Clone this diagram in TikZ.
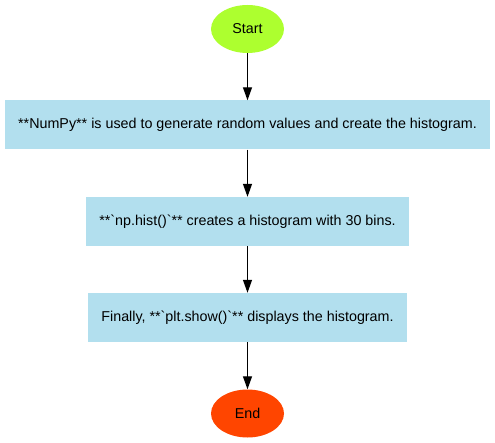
\documentclass[tikz,border=0pt]{standalone}
\usepackage{fontspec}
\setmainfont{Liberation Sans}
\usepackage{tikz}
\usetikzlibrary{arrows.meta}
\usetikzlibrary{shapes.geometric}
\definecolor{startgreen}{HTML}{ADFF2F}
\definecolor{endred}{HTML}{FF4500}
\definecolor{stepblue}{HTML}{B2DFEE}

\begin{document}
\begin{tikzpicture}[x=1pt, y=-1pt]
	\useasboundingbox (0,0) rectangle (495,443);
	\begin{scope}[every node/.style = {font = \fontsize{14.3}{16}\selectfont, inner sep = 0pt},
		terminal/.style = {ellipse, minimum width = 73pt, minimum height = 48pt},
		stepbox/.style = {rectangle, fill = stepblue, minimum height = 49pt}]
		\node [terminal, fill = startgreen] (S) at (247.5,29) {Start};
		\node [stepbox, minimum width = 485pt] (N) at (247.5,125) {**NumPy** is used to generate random values and create the histogram.};
		\node [stepbox, minimum width = 323pt] (H) at (247.5,221.5) {**\textasciigrave np.hist()\textasciigrave ** creates a histogram with 30 bins.};
		\node [stepbox, minimum width = 319pt] (P) at (247.5,317.5) {Finally, **\textasciigrave plt.show()\textasciigrave ** displays the histogram.};
		\node [terminal, fill = endred] (E) at (247.5,413.5) {End};
	\end{scope}
	\begin{scope}[>={Triangle[black, length = 13pt, width = 9pt]},
			every edge/.style={draw=black, line width = 1.2pt}]
		\path [->] (S) edge  (N);
		\path [->] (N) edge  (H);
		\path [->] (H) edge  (P);
		\path [->] (P) edge  (E);
	\end{scope}
\end{tikzpicture}
\end{document}
